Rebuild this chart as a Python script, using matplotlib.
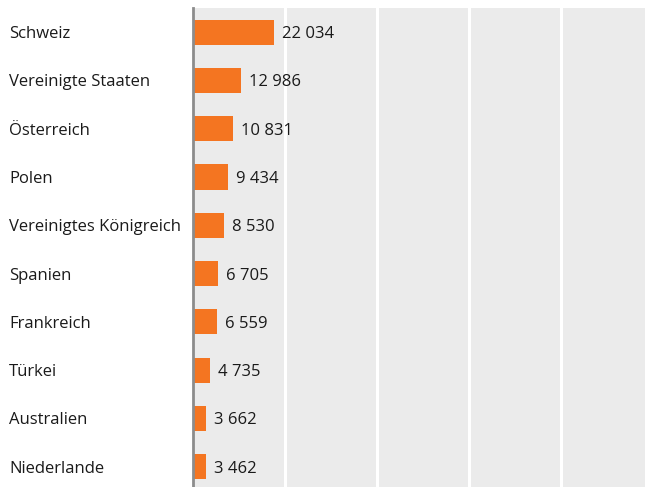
import matplotlib
matplotlib.use('Agg')
import matplotlib.pyplot as plt
import matplotlib.transforms as mtransforms

countries = ['Schweiz', 'Vereinigte Staaten', 'Österreich', 'Polen',
             'Vereinigtes Königreich', 'Spanien', 'Frankreich', 'Türkei',
             'Australien', 'Niederlande']
values = [22034, 12986, 10831, 9434, 8530, 6705, 6559, 4735, 3662, 3462]
grid_ticks = [25000, 50000, 75000, 100000]

W, H = 645, 487
fig = plt.figure(figsize=(W / 100, H / 100), dpi=100)
ax = fig.add_axes([193 / W, 0, (645 - 193) / W, (487 - 8) / H])
ax.set_facecolor('#EBEBEB')

ypos = list(range(len(countries)))
ax.barh(ypos, values, height=0.52, color='#F47521', zorder=3)

ax.set_xlim(0, 122800)
ax.set_ylim(9.42, -0.5)
ax.set_xticks(grid_ticks)
ax.set_yticks([])
ax.tick_params(axis='x', length=0, labelbottom=False)
ax.grid(axis='x', color='white', linewidth=2.2, zorder=1)
for s in ['top', 'right', 'bottom']:
    ax.spines[s].set_visible(False)
ax.spines['left'].set_color('#8C8C8C')
ax.spines['left'].set_linewidth(2)
ax.spines['left'].set_zorder(4)

font = 'Open Sans'
trans = mtransforms.blended_transform_factory(fig.transFigure, ax.transData)
offset = mtransforms.offset_copy(ax.transData, fig=fig, x=8, y=0, units='dots')
for i, (c, v) in enumerate(zip(countries, values)):
    ax.text(9 / W, i, c, transform=trans, ha='left', va='center_baseline',
            fontsize=12, family=font, color='#1a1a1a')
    lbl = '{:,}'.format(v).replace(',', ' ')
    ax.text(v, i, lbl, transform=offset, ha='left', va='center_baseline',
            fontsize=12, family=font, color='#1a1a1a', zorder=5)

fig.savefig('out.png', dpi=100)
